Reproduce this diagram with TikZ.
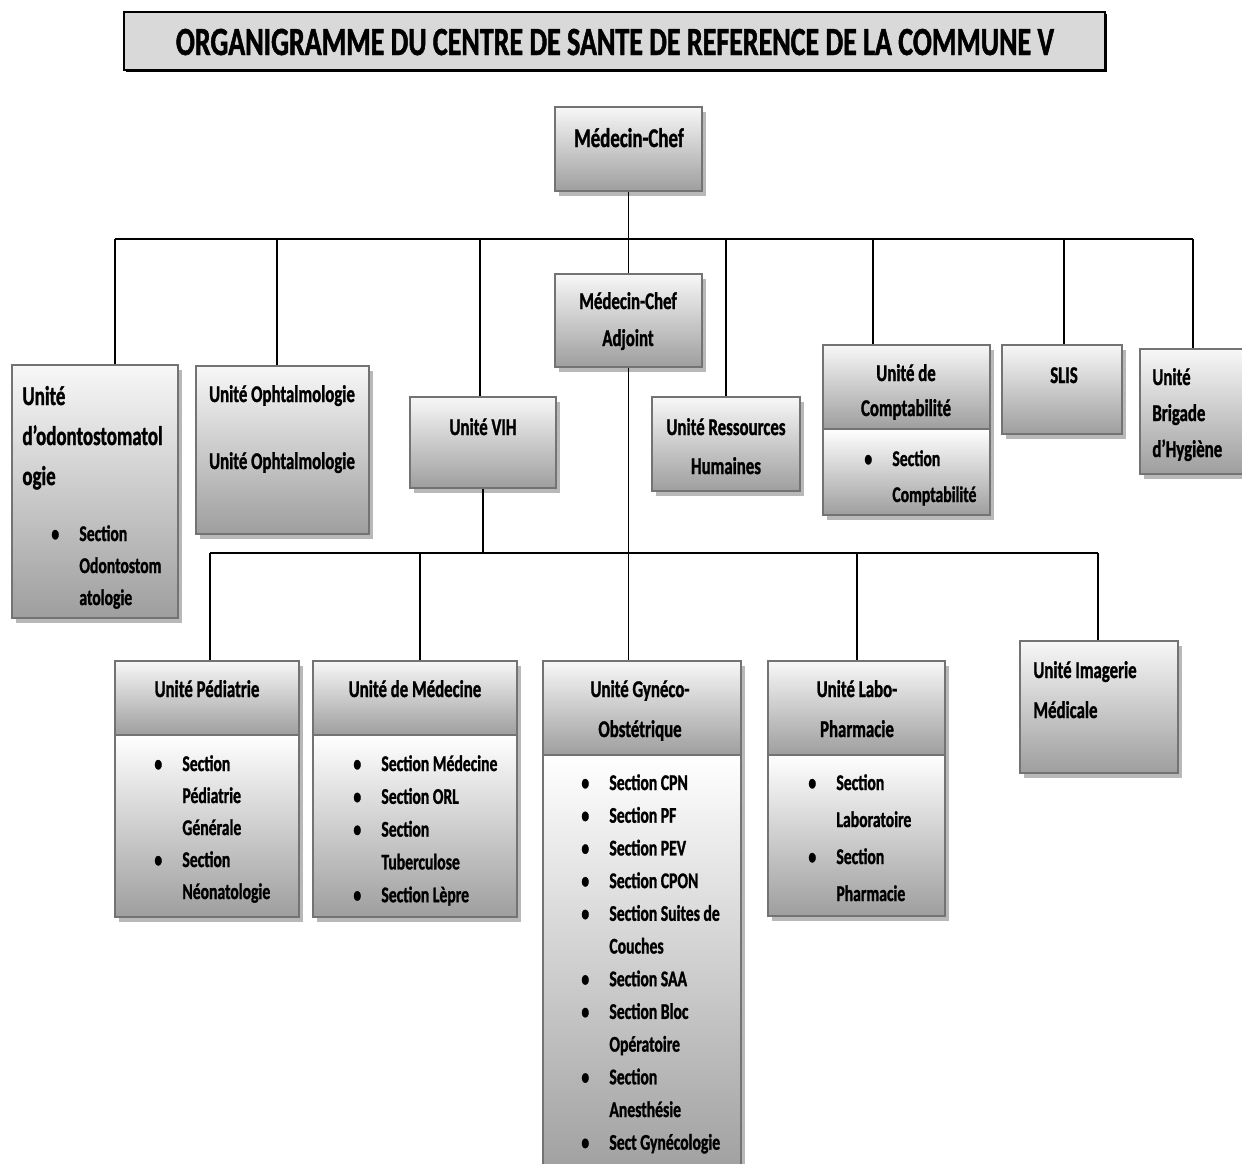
\documentclass[tikz,border=0pt]{standalone}
\usepackage{fontspec}
\setmainfont{Carlito}[FakeStretch=0.7, BoldFeatures={FakeBold=1.2}]
\usetikzlibrary{fit,shadows}
\tikzset{
  unit/.style={draw=black!55, line width=0.8pt, top color=black!3, bottom color=black!38, inner sep=0pt,
    drop shadow={shadow xshift=2pt, shadow yshift=-2.5pt, fill=black!28, opacity=1}},
  link/.style={line width=0.75pt},
  txt/.style={inner sep=0pt, anchor=base, font=\bfseries\fontsize{12}{#1}\selectfont},
  txt/.default=16,
  ltxt/.style={txt=#1, anchor=base west},
  ltxt/.default=16,
  items/.style={inner sep=0pt, anchor=base west, font=\bfseries\fontsize{11.2}{#1}\selectfont},
  items/.default=16
}
\newcommand{\ctab}[1]{\begin{tabular}[t]{@{}c@{}}#1\end{tabular}}
\newcommand{\ltab}[1]{\begin{tabular}[t]{@{}l@{}}#1\end{tabular}}
\newcommand{\bul}{\makebox[14pt][l]{\textbullet}}
\newcommand{\nob}{\hspace*{14pt}}
\begin{document}
\begin{tikzpicture}[x=0.5pt,y=-0.5pt]
    \useasboundingbox (0,0) rectangle (1242,1163);
    \node[fit={(124,12) (1105,70)}, inner sep=0pt, draw, line width=0.8pt, fill=black!15,
      drop shadow={shadow xshift=0.8pt, shadow yshift=-0.8pt, fill=black, opacity=1}] (title) {};
    \node[txt, font=\bfseries\fontsize{20}{24}\selectfont] (title-t) at (615,55) {ORGANIGRAMME DU CENTRE DE SANTE DE REFERENCE DE LA COMMUNE V};

    \node[unit, fit={(555,107) (702,191)}] (chef) {};
    \node[unit, fit={(555,274) (702,367)}] (adj) {};
    \node[unit, fit={(12,365) (178,618)}] (odonto) {};
    \node[unit, fit={(196,366) (369,534)}] (ophta) {};
    \node[unit, fit={(410,397) (556,488)}] (vih) {};
    \node[unit, fit={(652,397) (800,491)}] (rh) {};
    \node[unit, fit={(823,345) (990,429)}] (compta) {};
    \node[unit, top color=white, fit={(823,429) (990,515)}] (compta-s) {};
    \node[unit, fit={(1002,345) (1122,434)}] (slis) {};
    \node[unit, fit={(1140,349) (1250,474)}] (brig) {};
    \node[unit, fit={(115,661) (299,735)}] (ped) {};
    \node[unit, top color=white, fit={(115,735) (299,917)}] (ped-s) {};
    \node[unit, fit={(313,661) (517,735)}] (med) {};
    \node[unit, top color=white, fit={(313,735) (517,917)}] (med-s) {};
    \node[unit, fit={(543,661) (741,755)}] (gyn) {};
    \node[unit, top color=white, fit={(543,755) (741,1180)}] (gyn-s) {};
    \node[unit, fit={(768,661) (945,755)}] (labo) {};
    \node[unit, top color=white, fit={(768,755) (945,916)}] (labo-s) {};
    \node[unit, fit={(1020,641) (1178,773)}] (imag) {};

    \draw[link] (chef.south) -- (adj.north);
    \draw[link] (115,239) -- (1193,239);
    \foreach \x/\n in {115/odonto,277/ophta,480/vih,726/rh,873/compta,1064/slis,1193/brig} {
      \coordinate (d) at (\x,239);
      \draw[link] (d) -- (d |- \n.north);
    }
    \coordinate (bar) at (0,553);
    \draw[link] (adj.south) -- (adj.south |- gyn.north);
    \draw[link] (vih.south) -- (vih.south |- bar);
    \draw[link] (210,553) -- (1098,553);
    \foreach \x/\n in {210/ped,420/med,857/labo,1098/imag} {
      \coordinate (d) at (\x,553);
      \draw[link] (d) -- (d |- \n.north);
    }

    \node[txt, font=\bfseries\fontsize{13.5}{16}\selectfont] (chef-t) at (629,147) {Médecin-Chef};
    \node[txt=18.5] (adj-t) at (628,309) {\ctab{Médecin-Chef\\Adjoint}};
    \node[ltxt, font=\bfseries\fontsize{13.5}{20}\selectfont] (odonto-t) at (22,405) {\ltab{Unité\\d’odontostomatol\\ogie}};
    \node[items] (odonto-l) at (51,541) {\ltab{\bul Section\\\nob Odontostom\\\nob atologie}};
    \node[txt=33.5] (ophta-t) at (282,402) {\ctab{Unité Ophtalmologie\\Unité Ophtalmologie}};
    \node[txt] (vih-t) at (483,435) {Unité VIH};
    \node[txt=19.5] (rh-t) at (726,435) {\ctab{Unité Ressources\\Humaines}};
    \node[txt=17.5] (compta-t) at (906,381) {\ctab{Unité de\\Comptabilité}};
    \node[items=18] (compta-l) at (864,466) {\ltab{\bul Section\\\nob Comptabilité}};
    \node[txt] (slis-t) at (1064,383) {SLIS};
    \node[ltxt=18] (brig-t) at (1152,385) {\ltab{Unité\\Brigade\\d’Hygiène}};
    \node[txt] (ped-t) at (207,697) {Unité Pédiatrie};
    \node[items] (ped-l) at (154,771) {\ltab{\bul Section\\\nob Pédiatrie\\\nob Générale\\\bul Section\\\nob Néonatologie}};
    \node[txt] (med-t) at (415,697) {Unité de Médecine};
    \node[items=16.4] (med-l) at (353,771) {\ltab{\bul Section Médecine\\\bul Section ORL\\\bul Section\\\nob Tuberculose\\\bul Section Lèpre}};
    \node[txt=20] (gyn-t) at (640,697) {\ctab{Unité Gynéco-\\Obstétrique}};
    \node[items=16.35] (gyn-l) at (581,790) {\ltab{\bul Section CPN\\\bul Section PF\\\bul Section PEV\\\bul Section CPON\\\bul Section Suites de\\\nob Couches\\\bul Section SAA\\\bul Section Bloc\\\nob Opératoire\\\bul Section\\\nob Anesthésie\\\bul Sect Gynécologie}};
    \node[txt=20] (labo-t) at (857,697) {\ctab{Unité Labo-\\Pharmacie}};
    \node[items=18.5] (labo-l) at (808,790) {\ltab{\bul Section\\\nob Laboratoire\\\bul Section\\\nob Pharmacie}};
    \node[ltxt=20] (imag-t) at (1033,678) {\ltab{Unité Imagerie\\Médicale}};
\end{tikzpicture}
\end{document}
